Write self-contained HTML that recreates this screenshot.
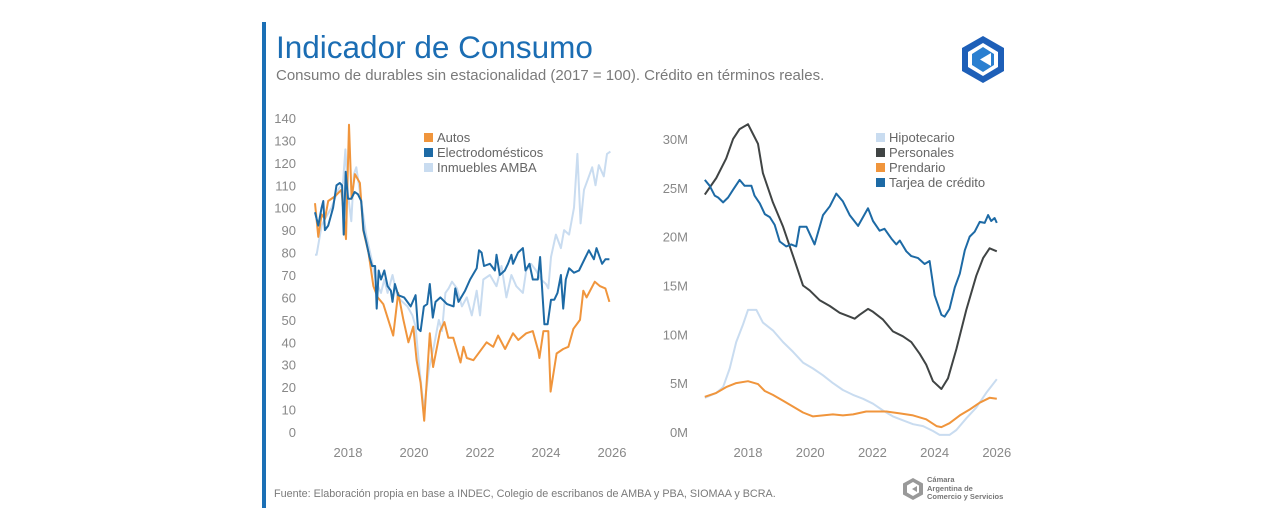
<!DOCTYPE html>
<html><head><meta charset="utf-8">
<style>
html,body{margin:0;padding:0;background:#fff;}
body{width:1280px;height:531px;position:relative;overflow:hidden;font-family:"Liberation Sans",sans-serif;}
.t{position:absolute;white-space:nowrap;}
</style></head>
<body>
<div style="position:absolute;left:262px;top:22px;width:4px;height:486px;background:#1b6fb5"></div>
<div class="t" style="left:276px;top:29px;font-size:31.5px;color:#1b6db3">Indicador de Consumo</div>
<div class="t" style="left:276px;top:67px;font-size:15px;color:#7a7a7a">Consumo de durables sin estacionalidad (2017 = 100). Crédito en términos reales.</div>
<div class="t" style="left:274px;top:488px;font-size:10.8px;color:#7a7a7a">Fuente: Elaboración propia en base a INDEC, Colegio de escribanos de AMBA y PBA, SIOMAA y BCRA.</div>
<svg style="position:absolute;left:958px;top:34px" width="50" height="50" viewBox="0 0 50 50">
<polygon points="25,2 46,14 46,37 25,49 4,37 4,14" fill="#1d5fb8"/>
<polygon points="25,9 40,18 40,33 25,42 10,33 10,18" fill="#fff"/>
<polygon points="25,13 36,20 36,31 25,38 14,31 14,20" fill="#2a7fd0"/>
<polygon points="33,19 33,32 22,25.5" fill="#fff"/>
</svg>
<svg style="position:absolute;left:902px;top:477px" width="22" height="24" viewBox="0 0 22 24">
<polygon points="11,1 21,6.5 21,17.5 11,23 1,17.5 1,6.5" fill="#999"/>
<polygon points="11,5 17,8.5 17,15.5 11,19 5,15.5 5,8.5" fill="#fff"/>
<polygon points="15,9 15,15 10,12" fill="#999"/>
</svg>
<div class="t" style="left:927px;top:476px;font-size:7.5px;line-height:8.5px;color:#777;font-weight:bold">Cámara<br>Argentina de<br>Comercio y Servicios</div>
<svg id="chart" style="position:absolute;left:0;top:0" width="1280" height="531"></svg>
<script>
// ---------- Left chart data ----------
const autosYears=[2017.0,2017.1,2017.2,2017.3,2017.4,2017.6,2017.8,2017.94,2018.03,2018.11,2018.21,2018.36,2018.46,2018.62,2018.77,2018.9,2019.07,2019.22,2019.37,2019.52,2019.68,2019.83,2019.98,2020.08,2020.2,2020.31,2020.48,2020.58,2020.79,2020.92,2021.04,2021.19,2021.29,2021.41,2021.5,2021.6,2021.8,2022.0,2022.2,2022.4,2022.55,2022.76,2023.0,2023.16,2023.4,2023.6,2023.77,2023.8,2023.92,2024.07,2024.14,2024.32,2024.52,2024.68,2024.83,2025.03,2025.13,2025.23,2025.48,2025.64,2025.8,2025.92];
const autosValues=[102,87,97,95,103,105,108,86,137,104,115,111,90,80,65,60,57,50,43,62,50,40,47,32,22,5,44,29,45,49,42,42,37,31,38,33,32,36,40,38,43,37,44,41,44,45,36,33,45,45,18,35,37,38,46,50,63,60,67,65,64,58];
const electroYears=[2017.0,2017.1,2017.2,2017.25,2017.3,2017.4,2017.55,2017.65,2017.75,2017.82,2017.87,2017.93,2018.0,2018.1,2018.2,2018.3,2018.4,2018.47,2018.55,2018.65,2018.73,2018.82,2018.87,2018.93,2019.0,2019.1,2019.2,2019.3,2019.35,2019.42,2019.52,2019.7,2019.9,2020.05,2020.12,2020.2,2020.3,2020.4,2020.48,2020.57,2020.65,2020.8,2021.0,2021.2,2021.25,2021.35,2021.55,2021.7,2021.9,2021.97,2022.05,2022.12,2022.3,2022.45,2022.5,2022.6,2022.75,2022.85,2022.95,2023.0,2023.15,2023.3,2023.38,2023.5,2023.6,2023.75,2023.82,2023.95,2024.05,2024.15,2024.25,2024.35,2024.45,2024.52,2024.6,2024.7,2024.85,2025.0,2025.2,2025.3,2025.45,2025.53,2025.7,2025.8,2025.92];
const electroValues=[98,92,100,103,90,92,100,110,111,110,88,116,104,104,107,106,103,90,85,78,74,74,55,72,68,72,65,63,58,66,61,60,56,61,46,45,56,57,66,51,58,60,57,56,64,58,63,68,73,81,80,74,75,72,79,70,72,75,79,75,80,82,72,75,68,68,78,48,48,59,59,62,70,55,68,73,71,72,78,81,77,82,75,77,77];
const inmYears=[2017.0,2017.05,2017.2,2017.3,2017.5,2017.7,2017.85,2017.92,2018.0,2018.1,2018.18,2018.25,2018.4,2018.55,2018.7,2018.85,2019.0,2019.1,2019.2,2019.35,2019.5,2019.65,2019.8,2019.95,2020.05,2020.15,2020.3,2020.45,2020.6,2020.75,2020.85,2020.95,2021.05,2021.15,2021.3,2021.45,2021.6,2021.75,2021.9,2022.0,2022.1,2022.3,2022.5,2022.65,2022.8,2022.95,2023.1,2023.3,2023.4,2023.55,2023.7,2023.85,2024.0,2024.07,2024.15,2024.3,2024.45,2024.55,2024.7,2024.85,2024.95,2025.05,2025.15,2025.25,2025.4,2025.5,2025.6,2025.75,2025.85,2025.95];
const inmValues=[79,79,92,95,100,108,111,126,106,94,115,118,103,88,78,67,62,68,62,70,60,58,56,52,47,30,10,28,38,50,45,62,64,67,64,56,60,52,63,52,68,70,65,74,60,70,65,62,72,75,72,68,66,64,78,88,82,90,88,100,124,93,108,112,118,110,119,114,124,125];
const leftYTicks=[0,10,20,30,40,50,60,70,80,90,100,110,120,130,140];
const xTickYears=[2018,2020,2022,2024,2026];
// ---------- Right chart data (millions) ----------
const persYears=[2016.61,2016.98,2017.30,2017.52,2017.73,2018.0,2018.16,2018.32,2018.48,2018.80,2019.13,2019.45,2019.77,2019.98,2020.30,2020.63,2020.95,2021.27,2021.43,2021.59,2021.86,2022.02,2022.34,2022.66,2022.98,2023.25,2023.52,2023.73,2023.95,2024.22,2024.43,2024.70,2025.02,2025.34,2025.56,2025.77,2026.0];
const persValues=[24.3,26,28,30,31,31.5,30.5,29.5,26.5,23.5,21,18,15,14.5,13.5,12.9,12.2,11.8,11.6,12,12.6,12.3,11.5,10.3,9.8,9.2,8,6.9,5.2,4.4,5.5,8.5,12.5,16,17.8,18.8,18.5];
const tarjYears=[2016.61,2016.77,2016.93,2017.04,2017.20,2017.36,2017.52,2017.73,2017.89,2018.11,2018.21,2018.38,2018.54,2018.70,2018.86,2019.02,2019.23,2019.39,2019.55,2019.66,2019.88,2020.14,2020.41,2020.63,2020.84,2021.05,2021.27,2021.54,2021.86,2022.02,2022.23,2022.39,2022.61,2022.77,2022.88,2023.09,2023.25,2023.47,2023.68,2023.84,2024.0,2024.22,2024.32,2024.48,2024.65,2024.81,2024.97,2025.13,2025.29,2025.45,2025.61,2025.72,2025.82,2025.93,2026.0];
const tarjValues=[25.8,25.2,24.2,24,23.5,24,24.8,25.8,25.2,25.2,24.2,23.4,22.3,22,21.2,19.5,19,19.2,19,21,21,19.2,22.2,23.1,24.4,23.6,22.2,21.1,22.9,21.6,20.6,20.8,19.8,19.2,19.6,18.5,18.0,17.8,17.2,17.5,14,12,11.8,12.6,14.8,16.2,18.6,20,20.5,21.5,21.4,22.2,21.6,21.9,21.4];
const hipoYears=[2016.61,2016.98,2017.20,2017.41,2017.62,2017.84,2018.0,2018.27,2018.48,2018.80,2019.13,2019.45,2019.77,2020.09,2020.41,2020.73,2021.05,2021.38,2021.70,2022.02,2022.34,2022.66,2022.98,2023.31,2023.63,2023.95,2024.16,2024.48,2024.70,2025.02,2025.34,2025.66,2026.0];
const hipoValues=[3.5,4.0,4.6,6.5,9.2,11,12.5,12.5,11.2,10.4,9.2,8.2,7.1,6.5,5.8,5.0,4.3,3.8,3.4,2.9,2.2,1.6,1.2,0.8,0.6,0.1,-0.3,-0.3,0.2,1.4,2.5,4.0,5.4];
const prenYears=[2016.61,2016.98,2017.30,2017.62,2018.0,2018.32,2018.54,2018.80,2019.13,2019.45,2019.77,2020.09,2020.41,2020.73,2021.05,2021.38,2021.80,2022.13,2022.45,2022.88,2023.31,2023.73,2024.06,2024.22,2024.48,2024.81,2025.13,2025.45,2025.77,2026.0];
const prenValues=[3.6,4.0,4.6,5.0,5.2,4.9,4.2,3.8,3.2,2.6,2.0,1.6,1.7,1.8,1.7,1.8,2.1,2.1,2.1,1.9,1.7,1.3,0.6,0.5,0.9,1.7,2.3,3.0,3.5,3.4];
const rightYTicks=[0,5,10,15,20,25,30];

const NS='http://www.w3.org/2000/svg';
const svg=document.getElementById('chart');
function mk(tag,attrs,parent){const e=document.createElementNS(NS,tag);for(const k in attrs)e.setAttribute(k,attrs[k]);(parent||svg).appendChild(e);return e;}
// axis functions
const lx=y=>315+(y-2017)*33;
const ly=v=>432-v*2.243;
const rx=y=>748+(y-2018)*31.1;
const ry=v=>432-v*9.77;

function line(xs,vs,fx,fy,color,name,w){
  const d=xs.map((x,i)=>(i?'L':'M')+fx(x).toFixed(1)+','+fy(vs[i]).toFixed(1)).join('');
  const p=mk('path',{d:d,fill:'none',stroke:color,'stroke-width':w||2,'stroke-linejoin':'round'});
  
  
}
function text(x,y,s,anchor,name,size){
  const t=mk('text',{x:x,y:y,'text-anchor':anchor,fill:'#888','font-size':size||13,'font-family':'Liberation Sans, sans-serif'});
  t.textContent=s;
  
  
}
// left axes
leftYTicks.forEach(v=>text(296,ly(v)+5,String(v),'end','left-y-tick'));
xTickYears.forEach(y=>text(lx(y),457,String(y),'middle','left-x-tick'));
line(inmYears,inmValues,lx,ly,'#c9dcf0','series-inmuebles');
line(autosYears,autosValues,lx,ly,'#f0953c','series-autos');
line(electroYears,electroValues,lx,ly,'#1d6aa5','series-electrodomesticos');
// right axes
rightYTicks.forEach(v=>text(688,ry(v)+5,v+'M','end','right-y-tick'));
xTickYears.forEach(y=>text(rx(y),457,String(y),'middle','right-x-tick'));
line(hipoYears,hipoValues,rx,ry,'#c9dcf0','series-hipotecario');
line(prenYears,prenValues,rx,ry,'#f0953c','series-prendario');
line(persYears,persValues,rx,ry,'#404444','series-personales');
line(tarjYears,tarjValues,rx,ry,'#1d6aa5','series-tarjeta');
// legends
function legend(x,y,color,label){
  const r=mk('rect',{x:x,y:y-9,width:9,height:9,fill:color});
  
  
  const t=mk('text',{x:x+13,y:y,fill:'#666','font-size':13,'font-family':'Liberation Sans, sans-serif'});
  t.textContent=label;
  
  
}
legend(424,142,'#f0953c','Autos');
legend(424,157,'#1d6aa5','Electrodomésticos');
legend(424,172,'#c9dcf0','Inmuebles AMBA');
legend(876,142,'#c9dcf0','Hipotecario');
legend(876,157,'#404444','Personales');
legend(876,172,'#f0953c','Prendario');
legend(876,187,'#1d6aa5','Tarjea de crédito');
</script>
</body></html>
